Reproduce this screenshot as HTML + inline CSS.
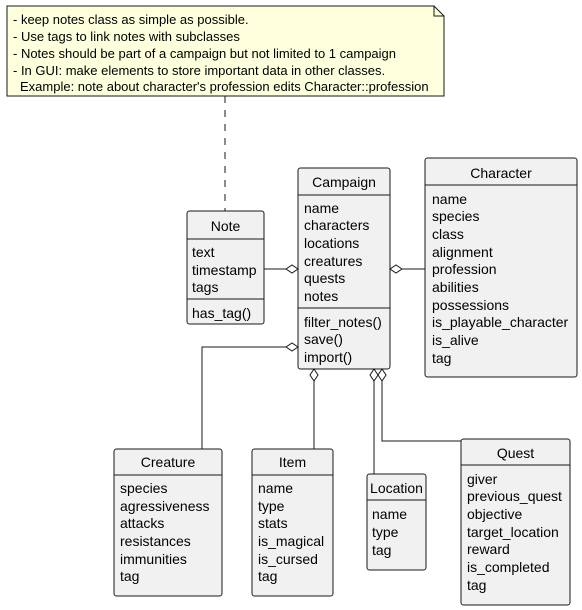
<!DOCTYPE html>
<html><head><style>body{margin:0;background:#fff}svg{display:block}text{font-family:"Liberation Sans",sans-serif;font-size:13px;fill:#000}.a text{font-size:14px}</style></head><body>
<svg width="582" height="610" viewBox="0 0 582 610" xmlns="http://www.w3.org/2000/svg">
<g stroke="#181818" stroke-width="1">
<path d="M7,6 L434,6 L444,16 L444,96 L7,96 Z" fill="#FEFFDD"/>
<path d="M434,6 L434,16 L444,16" fill="none"/>
<line x1="225" y1="96" x2="225" y2="211" stroke-dasharray="7,7"/>
<rect x="187" y="211" width="77" height="113" rx="2.5" fill="#F1F1F1"/>
<line x1="187" y1="239" x2="264" y2="239"/><line x1="187" y1="299" x2="264" y2="299"/>
<rect x="298" y="168" width="92" height="201" rx="2.5" fill="#F1F1F1"/>
<line x1="298" y1="195" x2="390" y2="195"/><line x1="298" y1="308" x2="390" y2="308"/>
<rect x="425" y="158" width="152" height="219" rx="2.5" fill="#F1F1F1"/>
<line x1="425" y1="185" x2="577" y2="185"/>
<rect x="114" y="449" width="108" height="147" rx="2.5" fill="#F1F1F1"/>
<line x1="114" y1="475" x2="222" y2="475"/>
<rect x="252" y="449" width="81" height="147" rx="2.5" fill="#F1F1F1"/>
<line x1="252" y1="475" x2="333" y2="475"/>
<rect x="367" y="474" width="59" height="96" rx="2.5" fill="#F1F1F1"/>
<line x1="367" y1="500" x2="426" y2="500"/>
<rect x="461" y="439" width="109" height="166" rx="2.5" fill="#F1F1F1"/>
<line x1="461" y1="465" x2="570" y2="465"/>
<g fill="none">
<line x1="264" y1="269" x2="286" y2="269"/>
<line x1="402" y1="269" x2="425" y2="269"/>
<polyline points="202,449 202,347 286,347"/>
<line x1="314" y1="381" x2="314" y2="449"/>
<line x1="374" y1="381" x2="374" y2="474"/>
<polyline points="382,381 382,441 461,441"/>
</g>
<g fill="#fff">
<path d="M298,269 L292,265 L286,269 L292,273 Z"/>
<path d="M390,269 L396,265 L402,269 L396,273 Z"/>
<path d="M298,347 L292,343 L286,347 L292,351 Z"/>
<path d="M314,369 L310,375 L314,381 L318,375 Z"/>
<path d="M374,369 L370,375 L374,381 L378,375 Z"/>
<path d="M382,369 L378,375 L382,381 L386,375 Z"/>
</g>
</g>
<g style="font-size:12px">
<text x="13" y="24">- keep notes class as simple as possible.</text>
<text x="13" y="41">- Use tags to link notes with subclasses</text>
<text x="13" y="58">- Notes should be part of a campaign but not limited to 1 campaign</text>
<text x="13" y="75">- In GUI: make elements to store important data in other classes.</text>
<text x="20" y="91">Example: note about character's profession edits Character::profession</text>
</g>
<text x="225.5" y="231" text-anchor="middle" style="font-size:14px">Note</text>
<text x="344" y="187" text-anchor="middle" style="font-size:14px">Campaign</text>
<text x="501" y="178" text-anchor="middle" style="font-size:14px">Character</text>
<text x="168" y="467" text-anchor="middle" style="font-size:14px">Creature</text>
<text x="292.5" y="467" text-anchor="middle" style="font-size:14px">Item</text>
<text x="396.5" y="493" text-anchor="middle" style="font-size:14px">Location</text>
<text x="515.5" y="458" text-anchor="middle" style="font-size:14px">Quest</text>
<g class="a">
<text x="192" y="257">text</text><text x="192" y="275">timestamp</text><text x="192" y="292">tags</text>
<text x="192" y="318">has_tag()</text>
<text x="304" y="213">name</text><text x="304" y="230">characters</text><text x="304" y="248">locations</text><text x="304" y="266">creatures</text><text x="304" y="283">quests</text><text x="304" y="301">notes</text>
<text x="304" y="327">filter_notes()</text><text x="304" y="344">save()</text><text x="304" y="362">import()</text>
<text x="432" y="204">name</text><text x="432" y="221">species</text><text x="432" y="239">class</text><text x="432" y="257">alignment</text><text x="432" y="274">profession</text><text x="432" y="292">abilities</text><text x="432" y="310">possessions</text><text x="432" y="327">is_playable_character</text><text x="432" y="345">is_alive</text><text x="432" y="363">tag</text>
<text x="120" y="493">species</text><text x="120" y="511">agressiveness</text><text x="120" y="528">attacks</text><text x="120" y="546">resistances</text><text x="120" y="564">immunities</text><text x="120" y="581">tag</text>
<text x="258" y="493">name</text><text x="258" y="511">type</text><text x="258" y="528">stats</text><text x="258" y="546">is_magical</text><text x="258" y="564">is_cursed</text><text x="258" y="581">tag</text>
<text x="372" y="519">name</text><text x="372" y="537">type</text><text x="372" y="555">tag</text>
<text x="467" y="484">giver</text><text x="467" y="501">previous_quest</text><text x="467" y="519">objective</text><text x="467" y="537">target_location</text><text x="467" y="554">reward</text><text x="467" y="572">is_completed</text><text x="467" y="590">tag</text>
</g>
</svg>
</body></html>
